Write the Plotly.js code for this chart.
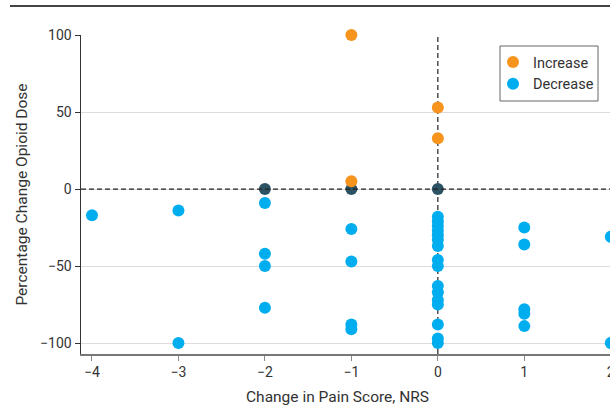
<!DOCTYPE html>
<html><head><meta charset="utf-8">
<script src="https://cdn.plot.ly/plotly-3.0.1.min.js"></script>
<style>html,body{margin:0;padding:0;overflow:hidden;background:#fff;width:610px;height:406px}</style>
</head><body><div id="chart"></div>
<script>
const incX = [-1, -1, 0, 0];
const incY = [100, 5, 53, 33];
const zeroX = [-2, -1, 0];
const zeroY = [0, 0, 0];
const decX = [-4, -3, -3, -2, -2, -2, -2, -1, -1, -1, -1,
  0, 0, 0, 0, 0, 0, 0, 0, 0, 0, 0, 0, 0, 0, 0, 0,
  1, 1, 1, 1, 1, 2, 2];
const decY = [-17, -14, -100, -9, -42, -50, -77, -26, -47, -88, -91,
  -18, -21, -24, -27, -30, -33, -37, -46, -50, -63, -67, -72, -75, -88, -97, -100,
  -25, -36, -78, -81, -89, -31, -100];
const xTicks = [-4, -3, -2, -1, 0, 1, 2];
const yTicks = [-100, -50, 0, 50, 100];
const xTitle = 'Change in Pain Score, NRS';
const yTitle = 'Percentage Change Opioid Dose';

const fam = 'Roboto, "Open Sans", sans-serif';
const W = 573, H = 319, L = 81, T = 35;
const px = (p) => (p - L) / W;
const py = (p) => 1 - (p - T) / H;
const mk = (c) => ({color: c, size: 12, line: {width: 0}});
const traces = [
  {type: 'scatter', mode: 'markers', name: 'Decrease', x: decX, y: decY, marker: mk('#00aeef'), cliponaxis: false, legendrank: 2},
  {type: 'scatter', mode: 'markers', name: 'No change', x: zeroX, y: zeroY, marker: mk('#2c5364'), cliponaxis: false, showlegend: false},
  {type: 'scatter', mode: 'markers', name: 'Increase', x: incX, y: incY, marker: mk('#f7941d'), cliponaxis: false, legendrank: 1}
];
const layout = {
  width: 660, height: 406,
  margin: {l: L, r: 6, t: T, b: 52},
  paper_bgcolor: '#fff', plot_bgcolor: '#fff',
  font: {family: fam, size: 14, color: '#333'},
  showlegend: true,
  legend: {x: px(493), y: py(46), xanchor: 'left', yanchor: 'top', borderwidth: 0,
    itemwidth: 30, font: {family: fam, size: 14.5, color: '#333'}, bgcolor: 'rgba(0,0,0,0)', tracegroupgap: 0},
  xaxis: {range: [-4.127, 2.5], tickvals: xTicks, ticks: 'outside', ticklen: 5, tickcolor: '#888',
    showline: true, linecolor: '#777', linewidth: 1.5, showgrid: false, zeroline: false,
    tickfont: {size: 14, color: '#333', family: fam}},
  yaxis: {range: [-107.1, 100], tickvals: yTicks, ticks: 'outside', ticklen: 5, tickcolor: '#333',
    showline: true, linecolor: '#333', linewidth: 1.5, showgrid: true, gridcolor: '#dcdcdc', zeroline: false,
    tickfont: {size: 14, color: '#333', family: fam},
    title: {text: yTitle, font: {size: 15.5, color: '#333', family: fam}, standoff: 8}},
  annotations: [
    {text: xTitle, xref: 'paper', yref: 'paper', x: px(337), y: py(397),
     xanchor: 'center', yanchor: 'middle', showarrow: false, font: {size: 15.5, color: '#333', family: fam}}
  ],
  shapes: [
    {type: 'rect', xref: 'paper', yref: 'paper', x0: px(500), x1: px(598), y0: py(46), y1: py(101),
     line: {color: '#666', width: 1}, fillcolor: '#fff', layer: 'above'},
    {type: 'line', xref: 'paper', yref: 'y', x0: 0, x1: 1, y0: 0, y1: 0, line: {color: '#222', width: 1.2, dash: '5px,3px'}, layer: 'above'},
    {type: 'line', xref: 'x', yref: 'paper', x0: 0, x1: 0, y0: 0, y1: 1, line: {color: '#222', width: 1.2, dash: '5px,3px'}, layer: 'below'},
    {type: 'line', xref: 'paper', yref: 'paper', x0: px(10), x1: 1.2, y0: py(6), y1: py(6), line: {color: '#444', width: 2}}
  ]
};
Plotly.newPlot('chart', traces, layout, {displayModeBar: false, staticPlot: true});
</script></body></html>
